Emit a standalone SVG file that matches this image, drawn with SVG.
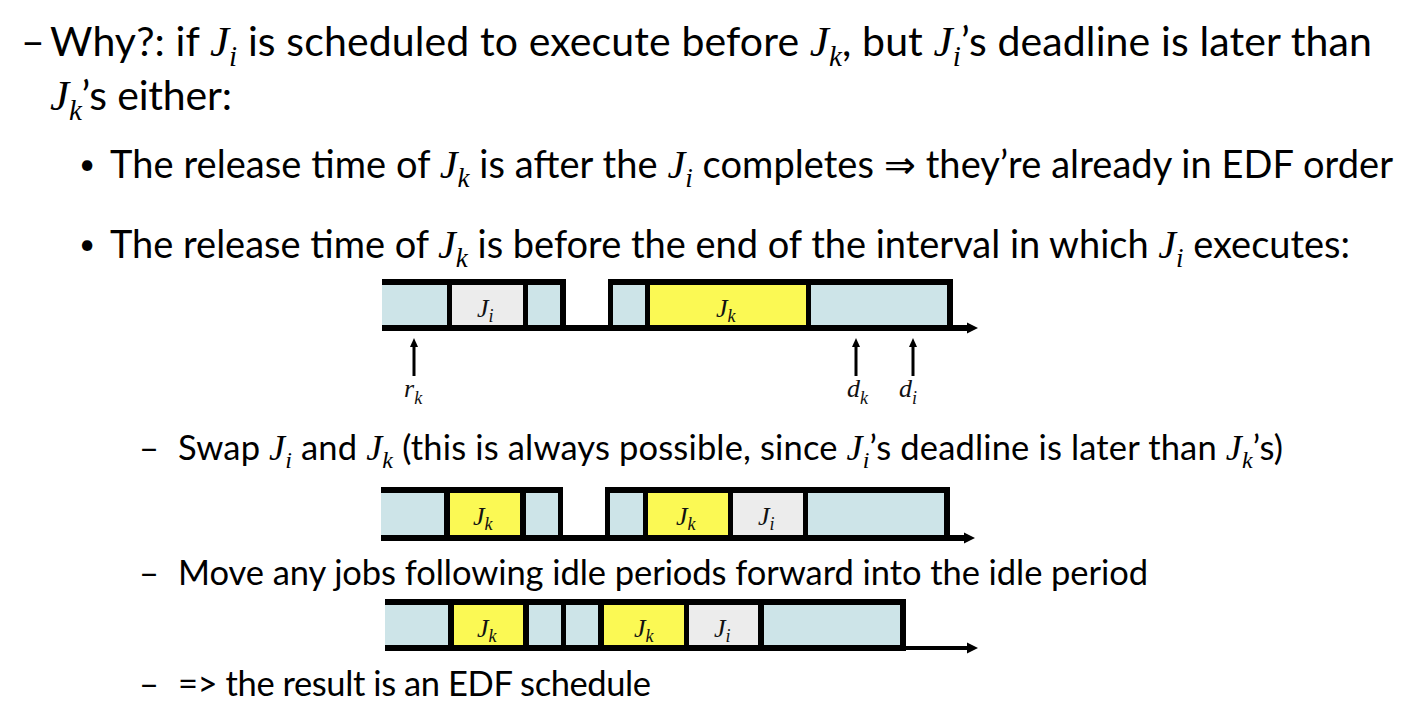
<svg xmlns="http://www.w3.org/2000/svg" width="1408" height="720" viewBox="0 0 1408 720">
<style>
.t{font-family:Lato,Carlito,"Liberation Sans",sans-serif;fill:#000}
.L1{font-size:41px}
.L2{font-size:38px}
.S{font-size:34.5px}
.m{font-family:"Liberation Serif",serif;font-style:italic}
.bl{fill:#cde4e8}
.gy{fill:#ececec}
.yw{fill:#fbf954}
.blk{fill:#000}
.lab{font-family:"Liberation Serif",serif;font-style:italic;font-size:26px;fill:#111}
.lsub{font-size:18px}
.ax{stroke:#000;stroke-width:6;fill:none}
.up{stroke:#000;stroke-width:3;fill:none}
</style>
<defs>
<marker id="axh" markerUnits="userSpaceOnUse" markerWidth="12" markerHeight="12" refX="0" refY="6" orient="auto"><path d="M0,0.5 L11,6 L0,11.5 z" fill="#000"/></marker>
<marker id="uph" markerUnits="userSpaceOnUse" markerWidth="10" markerHeight="10" refX="0" refY="5" orient="auto"><path d="M0,1 L9,5 L0,9 z" fill="#000"/></marker>
</defs>

<g id="text">
<text class="t L1" x="21" y="56">–</text>
<text class="t L1" x="50" y="56" textLength="1322" lengthAdjust="spacing">Why?: if <tspan class="m" font-size="43">J</tspan><tspan class="m" font-size="29" dy="10">i</tspan><tspan dy="-10"> is scheduled to execute before </tspan><tspan class="m" font-size="43">J</tspan><tspan class="m" font-size="29" dy="10">k</tspan><tspan dy="-10">, but </tspan><tspan class="m" font-size="43">J</tspan><tspan class="m" font-size="29" dy="10">i</tspan><tspan dy="-10">’s deadline is later than</tspan></text>
<text class="t L1" x="50" y="110" textLength="182" lengthAdjust="spacing"><tspan class="m" font-size="43">J</tspan><tspan class="m" font-size="29" dy="10">k</tspan><tspan dy="-10">’s either:</tspan></text>

<text class="t" font-size="28" x="79" y="174">•</text>
<text class="t L2" x="110" y="178" textLength="1283" lengthAdjust="spacing">The release time of <tspan class="m" font-size="40">J</tspan><tspan class="m" font-size="27" dy="9">k</tspan><tspan dy="-9"> is after the </tspan><tspan class="m" font-size="40">J</tspan><tspan class="m" font-size="27" dy="9">i</tspan><tspan dy="-9"> completes ⇒ they’re already in EDF order</tspan></text>

<text class="t" font-size="28" x="79" y="254">•</text>
<text class="t L2" x="110" y="258" textLength="1240" lengthAdjust="spacing">The release time of <tspan class="m" font-size="40">J</tspan><tspan class="m" font-size="27" dy="9">k</tspan><tspan dy="-9"> is before the end of the interval in which </tspan><tspan class="m" font-size="40">J</tspan><tspan class="m" font-size="27" dy="9">i</tspan><tspan dy="-9"> executes:</tspan></text>

<text class="t S" x="139" y="460">–</text>
<text class="t S" x="178" y="460" textLength="1105" lengthAdjust="spacing">Swap <tspan class="m" font-size="36">J</tspan><tspan class="m" font-size="24" dy="8">i</tspan><tspan dy="-8"> and </tspan><tspan class="m" font-size="36">J</tspan><tspan class="m" font-size="24" dy="8">k</tspan><tspan dy="-8"> (this is always possible, since </tspan><tspan class="m" font-size="36">J</tspan><tspan class="m" font-size="24" dy="8">i</tspan><tspan dy="-8">’s deadline is later than </tspan><tspan class="m" font-size="36">J</tspan><tspan class="m" font-size="24" dy="8">k</tspan><tspan dy="-8">’s)</tspan></text>

<text class="t S" x="139" y="585">–</text>
<text class="t S" x="178" y="585" textLength="970" lengthAdjust="spacing">Move any jobs following idle periods forward into the idle period</text>

<text class="t S" x="139" y="696">–</text>
<text class="t S" x="178" y="696" textLength="473" lengthAdjust="spacing">=&gt; the result is an EDF schedule</text>
</g>

<g id="schedule1">
<rect class="blk" x="382" y="279" width="184" height="52"/>
<rect class="blk" x="608" y="279" width="345" height="52"/>
<rect class="bl" x="382" y="285" width="65" height="40"/>
<rect class="gy" x="452" y="285" width="71" height="40"/>
<rect class="bl" x="528" y="285" width="32" height="40"/>
<rect class="bl" x="613" y="285" width="32" height="40"/>
<rect class="yw" x="650" y="285" width="156" height="40"/>
<rect class="bl" x="811" y="285" width="136" height="40"/>
<text class="lab" x="477" y="317">J<tspan class="lsub" dy="5">i</tspan></text>
<text class="lab" x="716" y="317">J<tspan class="lsub" dy="5">k</tspan></text>
</g>

<g id="markers1">
<text class="lab" x="404" y="397">r<tspan class="lsub" dy="7">k</tspan></text>
<text class="lab" x="847" y="397">d<tspan class="lsub" dy="7">k</tspan></text>
<text class="lab" x="899" y="397">d<tspan class="lsub" dy="7">i</tspan></text>
</g>

<g id="schedule2">
<rect class="blk" x="381" y="487" width="182" height="54"/>
<rect class="blk" x="605" y="487" width="345" height="54"/>
<rect class="bl" x="381" y="493" width="63" height="42"/>
<rect class="yw" x="450" y="493" width="70" height="42"/>
<rect class="bl" x="526" y="493" width="32" height="42"/>
<rect class="bl" x="610" y="493" width="33" height="42"/>
<rect class="yw" x="648" y="493" width="80" height="42"/>
<rect class="gy" x="733" y="493" width="70" height="42"/>
<rect class="bl" x="808" y="493" width="136" height="42"/>
<text class="lab" x="473" y="525">J<tspan class="lsub" dy="5">k</tspan></text>
<text class="lab" x="676" y="525">J<tspan class="lsub" dy="5">k</tspan></text>
<text class="lab" x="758" y="525">J<tspan class="lsub" dy="5">i</tspan></text>
</g>

<g id="schedule3">
<rect class="blk" x="385" y="599" width="521" height="52"/>
<rect class="bl" x="385" y="605" width="63" height="40"/>
<rect class="yw" x="454" y="605" width="69" height="40"/>
<rect class="bl" x="529" y="605" width="32" height="40"/>
<rect class="bl" x="566" y="605" width="32" height="40"/>
<rect class="yw" x="604" y="605" width="80" height="40"/>
<rect class="gy" x="689" y="605" width="69" height="40"/>
<rect class="bl" x="764" y="605" width="136" height="40"/>
<text class="lab" x="477" y="637">J<tspan class="lsub" dy="5">k</tspan></text>
<text class="lab" x="634" y="637">J<tspan class="lsub" dy="5">k</tspan></text>
<text class="lab" x="714" y="637">J<tspan class="lsub" dy="5">i</tspan></text>
</g>

<g id="connectors">
<line class="ax" x1="382" y1="328" x2="967" y2="328" marker-end="url(#axh)"/>
<line class="ax" x1="381" y1="538" x2="964" y2="538" marker-end="url(#axh)"/>
<line class="ax" x1="385" y1="648" x2="900" y2="648"/>
<line x1="900" y1="648" x2="967" y2="648" stroke="#000" stroke-width="4" marker-end="url(#axh)"/>
<line class="up" x1="414" y1="376" x2="414" y2="347" marker-end="url(#uph)"/>
<line class="up" x1="856" y1="376" x2="856" y2="347" marker-end="url(#uph)"/>
<line class="up" x1="913" y1="376" x2="913" y2="347" marker-end="url(#uph)"/>
</g>
</svg>
